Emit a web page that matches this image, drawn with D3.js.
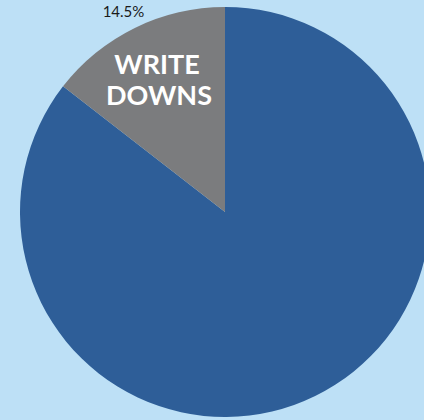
<!DOCTYPE html>
<html>
<head>
<meta charset="utf-8">
<script src="https://cdn.jsdelivr.net/npm/d3@7"></script>
<style>
  body { margin: 0; background: #bde0f6; }
  svg { display: block; }
</style>
</head>
<body>
<div id="chart"></div>
<script>
var categories = ["Other", "Write downs"];
var values = [85.5, 14.5];
var colors = ["#2e5e98", "#7b7c7e"];

var width = 424, height = 420;
var cx = 225, cy = 212, radius = 205;

var svg = d3.select("#chart").append("svg")
    .attr("width", width)
    .attr("height", height);

var g = svg.append("g")
    .attr("transform", "translate(" + cx + "," + cy + ")");

var pie = d3.pie().sort(null).value(function(d) { return d; });
var arc = d3.arc().innerRadius(0).outerRadius(radius);

var arcs = pie(values);

g.selectAll("path.slice")
    .data(arcs)
    .enter().append("path")
    .attr("class", "slice")
    .attr("d", arc)
    .attr("fill", function(d, i) { return colors[i]; });

// percentage label above the small slice
g.append("text")
    .attr("x", -101.5)
    .attr("y", -195)
    .attr("text-anchor", "middle")
    .style("font-family", "Lato, sans-serif")
    .style("font-size", "15px")
    .style("fill", "#1a1a1a")
    .text(values[1].toFixed(1) + "%");

// label inside the small slice
var label = g.append("text")
    .attr("text-anchor", "middle")
    .style("font-family", "Lato, sans-serif")
    .style("font-weight", "bold")
    .style("font-size", "27px")
    .style("fill", "#ffffff");
label.append("tspan").attr("x", -68).attr("y", -138).text("WRITE");
label.append("tspan").attr("x", -66).attr("y", -107).text("DOWNS");
</script>
</body>
</html>
